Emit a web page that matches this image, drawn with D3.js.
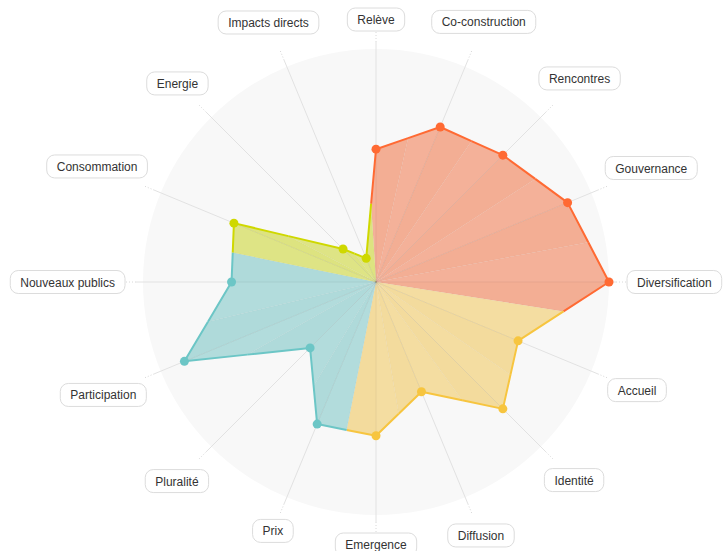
<!DOCTYPE html>
<html><head><meta charset="utf-8">
<script src="https://cdn.jsdelivr.net/npm/d3@7"></script>
<style>
html,body{margin:0;padding:0;background:#fff;}
svg{display:block;}
text{font-family:"Liberation Sans",Arial,Helvetica,sans-serif;}
</style></head>
<body>
<svg id="chart" width="724" height="551"></svg>
<script>
const categories = ["Relève","Co-construction","Rencontres","Gouvernance","Diversification","Accueil","Identité","Diffusion","Emergence","Prix","Pluralité","Participation","Nouveaux publics","Consommation","Energie","Impacts directs"];
const values = [57, 72, 77, 89, 100, 66, 77, 51, 66, 66, 40, 89, 62, 66, 20, 11];
const groups = ["A","A","A","A","A","B","B","B","B","C","C","C","C","D","D","D"];
const groupNames = ["A","B","C","D"];
const strokeColors = ["#ff6a33","#f7c53f","#6cc6c6","#cfd800"];
const fillColors = ["#f3ab91","#f3da9a","#acd9d9","#dce27c"];

const svg = d3.select("#chart");
const cx = 376, cy = 282, R = 233;
const n = categories.length;
const g = svg.append("g").attr("transform", `translate(${cx},${cy})`);

const angle = d3.scaleLinear().domain([0, n]).range([0, 2*Math.PI]);
const r = d3.scaleLinear().domain([0, 100]).range([0, R]);
const strokeC = d3.scaleOrdinal().domain(groupNames).range(strokeColors);
const fillC = d3.scaleOrdinal().domain(groupNames).range(fillColors);

const pt = (i, rad) => [Math.sin(angle(i))*rad, -Math.cos(angle(i))*rad];

// background disc
g.append("circle").attr("r", R).attr("fill", "#f8f8f8");

// axes
categories.forEach((c, i) => {
  const a = pt(i, 0), b = pt(i, 240), e = pt(i, 251);
  g.append("line").attr("x1", a[0]).attr("y1", a[1]).attr("x2", b[0]).attr("y2", b[1])
    .attr("stroke", "#e2e2e2").attr("stroke-width", 1);
  g.append("line").attr("x1", b[0]).attr("y1", b[1]).attr("x2", e[0]).attr("y2", e[1])
    .attr("stroke", "#d8d8d8").attr("stroke-width", 1).attr("stroke-dasharray", "1,2");
});

const P = values.map((v, i) => pt(i, r(v)));
const mid = (a, b) => [(a[0]+b[0])/2, (a[1]+b[1])/2];

// wedges per axis
const wedges = g.append("g");
categories.forEach((c, i) => {
  const prev = P[(i - 1 + n) % n], next = P[(i + 1) % n];
  const m1 = mid(prev, P[i]), m2 = mid(P[i], next);
  wedges.append("path").attr("d", d3.line()([[0,0], m1, P[i], [0,0]]))
    .attr("fill", fillC(groups[i])).attr("fill-opacity", 0.93);
  wedges.append("path").attr("d", d3.line()([[0,0], P[i], m2, [0,0]]))
    .attr("fill", fillC(groups[i])).attr("fill-opacity", 0.97);
});

// faint lines over fill (axes and facet edges)
categories.forEach((c, i) => {
  const b = P[i], m = mid(P[i], P[(i + 1) % n]);
  g.append("line").attr("x1", 0).attr("y1", 0).attr("x2", b[0]).attr("y2", b[1])
    .attr("stroke", "#000").attr("stroke-opacity", 0.05).attr("stroke-width", 1);
  g.append("line").attr("x1", 0).attr("y1", 0).attr("x2", m[0]).attr("y2", m[1])
    .attr("stroke", "#000").attr("stroke-opacity", 0.025).attr("stroke-width", 1);
});

// outline strokes, split at midpoints
categories.forEach((c, i) => {
  const prev = P[(i - 1 + n) % n], next = P[(i + 1) % n];
  const m1 = mid(prev, P[i]), m2 = mid(P[i], next);
  g.append("path").attr("d", d3.line()([m1, P[i], m2]))
    .attr("fill", "none").attr("stroke", strokeC(groups[i])).attr("stroke-width", 2)
    .attr("stroke-linejoin", "round");
});

// points
categories.forEach((c, i) => {
  g.append("circle").attr("cx", P[i][0]).attr("cy", P[i][1]).attr("r", 4.5)
    .attr("fill", strokeC(groups[i]));
});

// labels
const H = 23, pad = 10, base = 251;
categories.forEach((c, i) => {
  const lg = g.append("g");
  const t = lg.append("text").text(c).attr("font-size", 12).attr("fill", "#333")
    .attr("text-anchor", "middle").attr("dominant-baseline", "central");
  const w = t.node().getComputedTextLength() + 2*pad;
  const s = Math.sin(angle(i)), co = Math.cos(angle(i));
  const rad = base + Math.abs(s)*w/2 + Math.abs(co)*H/2;
  const [x, y] = pt(i, rad);
  lg.insert("rect", "text").attr("x", x - w/2).attr("y", y - H/2).attr("width", w).attr("height", H)
    .attr("rx", 8).attr("fill", "#fff").attr("stroke", "#dcdcdc").attr("stroke-width", 1);
  t.attr("x", x).attr("y", y + 0.5);
});
</script>
</body></html>
